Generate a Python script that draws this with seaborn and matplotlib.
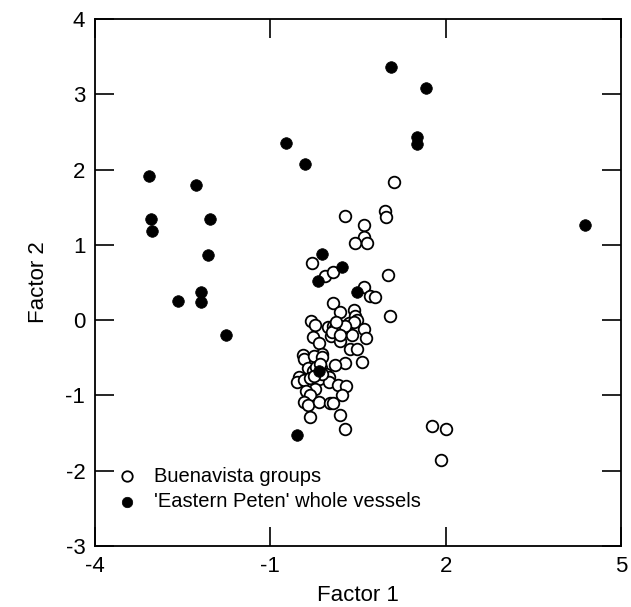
import matplotlib
matplotlib.use("Agg")
import matplotlib.pyplot as plt
import seaborn as sns
import pandas as pd

# === Data ===
buena_x = [1.11, 0.28, 0.96, 0.98, 0.60, 0.61, 0.44, 0.65, -0.28, -0.07, 0.08, 1.01,
           0.61, 0.70, 0.79, 0.08, 0.20, 1.04, 0.43, 0.45, 0.49, -0.30, -0.23, -0.02,
           0.07, 0.16, 0.34, 0.43, 0.61, 0.63, 0.40, 0.04, 0.19, -0.27, -0.17, -0.11,
           0.36, 0.48, -0.45, -0.42, -0.25, -0.11, 0.28, 0.11, 0.56, -0.36, -0.27, -0.14,
           -0.05, 0.01, -0.51, -0.54, -0.42, -0.33, -0.17, 0.01, 0.16, 0.30, -0.23, -0.39,
           -0.33, 0.23, -0.43, -0.36, -0.17, 0.02, 0.07, -0.33, 0.19, 0.28, 1.77, 2.01,
           1.92,
           0.10, 0.15, 0.22, 0.05, 0.28, 0.12, 0.20, -0.22, -0.12, -0.25, -0.15]
buena_y = [1.83, 1.39, 1.45, 1.37, 1.27, 1.11, 1.03, 1.02, 0.76, 0.59, 0.64, 0.60,
           0.44, 0.32, 0.31, 0.23, 0.11, 0.055, 0.14, 0.06, 0.00, -0.01, -0.07, -0.09,
           -0.08, -0.07, -0.04, -0.02, -0.12, -0.23, -0.20, -0.21, -0.28, -0.22, -0.30, -0.45,
           -0.38, -0.38, -0.46, -0.51, -0.47, -0.49, -0.57, -0.60, -0.55, -0.64, -0.68, -0.64,
           -0.72, -0.75, -0.75, -0.82, -0.80, -0.77, -0.78, -0.82, -0.86, -0.88, -0.91, -0.94,
           -0.99, -0.99, -1.09, -1.13, -1.09, -1.10, -1.10, -1.29, -1.26, -1.44, -1.40, -1.44,
           -1.86,
           -0.10, -0.14, -0.12, -0.16, -0.08, -0.03, -0.20, -0.62, -0.72, -0.74, -0.58]

peten_x = [-3.08, -3.05, -3.02, -2.28, -2.03, -2.07, -2.58, -2.18, -2.18, -1.76,
           -0.73, -0.40, 1.06, 1.66, 1.51, 1.51, 4.38, -0.11, 0.22, -0.19, 0.48,
           -0.54, -0.17]
peten_y = [1.92, 1.35, 1.19, 1.80, 1.35, 0.86, 0.25, 0.37, 0.24, -0.20,
           2.36, 2.07, 3.36, 3.09, 2.44, 2.34, 1.26, 0.88, 0.71, 0.52, 0.38,
           -1.53, -0.68]

x_ticks = [-4, -1, 2, 5]
y_ticks = [-3, -2, -1, 0, 1, 2, 3, 4]

buena = pd.DataFrame({"Factor 1": buena_x, "Factor 2": buena_y})
peten = pd.DataFrame({"Factor 1": peten_x, "Factor 2": peten_y})

# === Plot ===
sns.set_style("ticks")
plt.rcParams["font.family"] = ["Liberation Sans", "DejaVu Sans"]
plt.rcParams["axes.unicode_minus"] = False
plt.rcParams["text.color"] = "black"
plt.rcParams["axes.labelcolor"] = "black"

fig = plt.figure(figsize=(6.31, 6.07), dpi=100)
ax = fig.add_axes([0.1506, 0.1005, 0.8336, 0.868])

sns.scatterplot(data=buena, x="Factor 1", y="Factor 2", ax=ax, s=70,
                facecolor="white", edgecolor="black", linewidth=1.3,
                label="Buenavista groups", zorder=2)
sns.scatterplot(data=peten, x="Factor 1", y="Factor 2", ax=ax, s=70,
                color="black", edgecolor="black", linewidth=0.5,
                label="'Eastern Peten' whole vessels", zorder=3)

ax.set_xlim(-4, 5)
ax.set_ylim(-3, 4)
ax.set_xticks(x_ticks)
ax.set_yticks(y_ticks)
ax.tick_params(direction="in", length=14, width=1.2, labelsize=16, pad=7,
               top=True, right=True, colors="black")
for sp in ax.spines.values():
    sp.set_linewidth(1.3)
    sp.set_color("black")
ax.set_xlabel("Factor 1", fontsize=16, labelpad=6)
ax.set_ylabel("Factor 2", fontsize=16, labelpad=12)

leg = ax.legend(loc="lower left", bbox_to_anchor=(-0.005, 0.04), frameon=False,
                fontsize=14.5, handletextpad=0.35, labelspacing=0.3,
                markerscale=0.9, borderaxespad=0.3)

fig.savefig("out.png", dpi=100)
